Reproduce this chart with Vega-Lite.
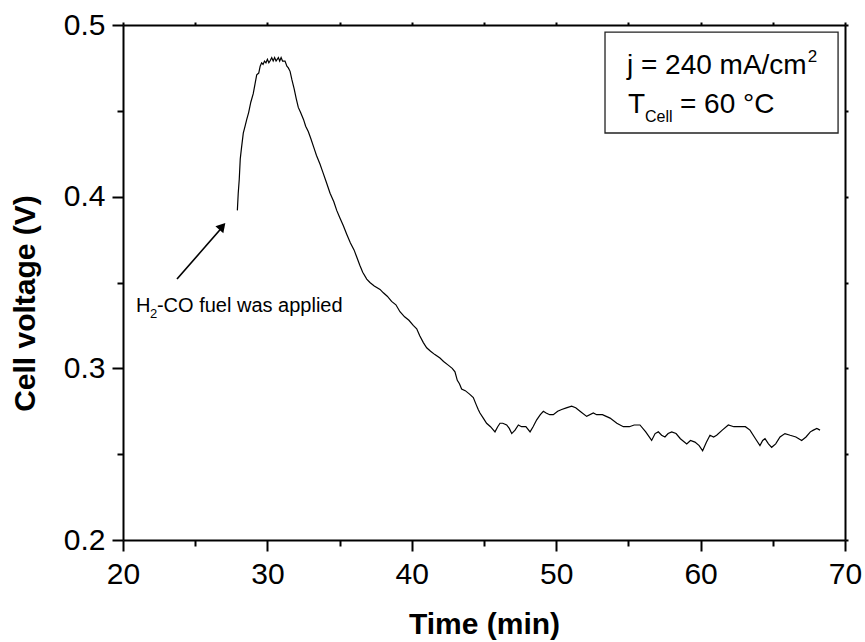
{
  "$schema": "https://vega.github.io/schema/vega-lite/v6.json",
  "width": 722,
  "height": 515,
  "autosize": "none",
  "padding": {"left": 123, "top": 25, "right": 20, "bottom": 102},
  "background": "white",
  "config": {
    "view": {"stroke": null},
    "font": "Liberation Sans",
    "axis": {"domainColor": "black", "domainWidth": 2, "tickColor": "black", "tickWidth": 2, "grid": false, "labelColor": "black", "titleColor": "black", "labelFont": "Liberation Sans", "titleFont": "Liberation Sans"}
  },
  "datasets": {
    "voltage": [
      {"t": 27.92, "v": 0.392}, {"t": 27.98, "v": 0.402}, {"t": 28.05, "v": 0.410}, {"t": 28.12, "v": 0.422},
      {"t": 28.2, "v": 0.428}, {"t": 28.33, "v": 0.437}, {"t": 28.45, "v": 0.441}, {"t": 28.57, "v": 0.445},
      {"t": 28.7, "v": 0.449}, {"t": 28.85, "v": 0.455}, {"t": 29.02, "v": 0.460}, {"t": 29.15, "v": 0.466},
      {"t": 29.26, "v": 0.471}, {"t": 29.4, "v": 0.472}, {"t": 29.5, "v": 0.476}, {"t": 29.6, "v": 0.478},
      {"t": 29.7, "v": 0.477}, {"t": 29.8, "v": 0.479}, {"t": 29.9, "v": 0.478}, {"t": 30.0, "v": 0.480},
      {"t": 30.1, "v": 0.478}, {"t": 30.18, "v": 0.479}, {"t": 30.3, "v": 0.481}, {"t": 30.4, "v": 0.479},
      {"t": 30.5, "v": 0.481}, {"t": 30.6, "v": 0.479}, {"t": 30.76, "v": 0.481}, {"t": 30.85, "v": 0.479},
      {"t": 30.95, "v": 0.481}, {"t": 31.05, "v": 0.479}, {"t": 31.22, "v": 0.479}, {"t": 31.35, "v": 0.476},
      {"t": 31.45, "v": 0.475}, {"t": 31.57, "v": 0.473}, {"t": 31.7, "v": 0.468}, {"t": 31.85, "v": 0.463},
      {"t": 32.0, "v": 0.457}, {"t": 32.14, "v": 0.452}, {"t": 32.3, "v": 0.449}, {"t": 32.5, "v": 0.445},
      {"t": 32.65, "v": 0.441}, {"t": 32.83, "v": 0.438}, {"t": 33.0, "v": 0.434}, {"t": 33.2, "v": 0.429},
      {"t": 33.4, "v": 0.424}, {"t": 33.64, "v": 0.419}, {"t": 33.85, "v": 0.414}, {"t": 34.1, "v": 0.408},
      {"t": 34.34, "v": 0.402}, {"t": 34.6, "v": 0.397}, {"t": 34.8, "v": 0.392}, {"t": 35.0, "v": 0.388},
      {"t": 35.26, "v": 0.383}, {"t": 35.5, "v": 0.378}, {"t": 35.75, "v": 0.373}, {"t": 36.0, "v": 0.369},
      {"t": 36.18, "v": 0.365}, {"t": 36.4, "v": 0.360}, {"t": 36.6, "v": 0.356}, {"t": 36.88, "v": 0.352},
      {"t": 37.1, "v": 0.350}, {"t": 37.4, "v": 0.348}, {"t": 37.8, "v": 0.346}, {"t": 38.03, "v": 0.344},
      {"t": 38.3, "v": 0.342}, {"t": 38.6, "v": 0.339}, {"t": 38.9, "v": 0.337}, {"t": 39.18, "v": 0.333},
      {"t": 39.5, "v": 0.330}, {"t": 39.8, "v": 0.328}, {"t": 40.1, "v": 0.325}, {"t": 40.34, "v": 0.323},
      {"t": 40.55, "v": 0.319}, {"t": 40.8, "v": 0.315}, {"t": 41.03, "v": 0.312}, {"t": 41.3, "v": 0.310},
      {"t": 41.6, "v": 0.308}, {"t": 41.95, "v": 0.306}, {"t": 42.2, "v": 0.304}, {"t": 42.5, "v": 0.302},
      {"t": 42.8, "v": 0.300}, {"t": 42.99, "v": 0.298}, {"t": 43.15, "v": 0.293}, {"t": 43.3, "v": 0.291},
      {"t": 43.45, "v": 0.288}, {"t": 43.7, "v": 0.287}, {"t": 44.0, "v": 0.285}, {"t": 44.26, "v": 0.283},
      {"t": 44.45, "v": 0.279}, {"t": 44.6, "v": 0.276}, {"t": 44.72, "v": 0.274}, {"t": 44.95, "v": 0.271},
      {"t": 45.18, "v": 0.268}, {"t": 45.45, "v": 0.266}, {"t": 45.76, "v": 0.263}, {"t": 45.95, "v": 0.266},
      {"t": 46.11, "v": 0.268}, {"t": 46.3, "v": 0.268}, {"t": 46.57, "v": 0.267}, {"t": 46.75, "v": 0.265},
      {"t": 46.92, "v": 0.262}, {"t": 47.15, "v": 0.264}, {"t": 47.38, "v": 0.267}, {"t": 47.6, "v": 0.266},
      {"t": 47.9, "v": 0.266}, {"t": 48.19, "v": 0.263}, {"t": 48.4, "v": 0.266}, {"t": 48.65, "v": 0.270},
      {"t": 48.9, "v": 0.273}, {"t": 49.11, "v": 0.275}, {"t": 49.3, "v": 0.274}, {"t": 49.55, "v": 0.273},
      {"t": 49.8, "v": 0.273}, {"t": 50.1, "v": 0.275}, {"t": 50.38, "v": 0.276}, {"t": 50.7, "v": 0.277},
      {"t": 51.07, "v": 0.278}, {"t": 51.35, "v": 0.277}, {"t": 51.65, "v": 0.275}, {"t": 52.11, "v": 0.272},
      {"t": 52.57, "v": 0.274}, {"t": 52.8, "v": 0.273}, {"t": 53.2, "v": 0.273}, {"t": 53.73, "v": 0.271},
      {"t": 54.2, "v": 0.268}, {"t": 54.65, "v": 0.266}, {"t": 55.07, "v": 0.266}, {"t": 55.4, "v": 0.267},
      {"t": 55.8, "v": 0.267}, {"t": 56.2, "v": 0.263}, {"t": 56.61, "v": 0.258}, {"t": 56.85, "v": 0.262},
      {"t": 57.07, "v": 0.263}, {"t": 57.3, "v": 0.261}, {"t": 57.53, "v": 0.260}, {"t": 57.75, "v": 0.262},
      {"t": 58.0, "v": 0.263}, {"t": 58.3, "v": 0.262}, {"t": 58.6, "v": 0.259}, {"t": 59.04, "v": 0.256},
      {"t": 59.3, "v": 0.258}, {"t": 59.61, "v": 0.257}, {"t": 59.9, "v": 0.255}, {"t": 60.14, "v": 0.252},
      {"t": 60.4, "v": 0.257}, {"t": 60.65, "v": 0.261}, {"t": 60.9, "v": 0.260}, {"t": 61.11, "v": 0.261},
      {"t": 61.5, "v": 0.264}, {"t": 61.92, "v": 0.267}, {"t": 62.3, "v": 0.266}, {"t": 62.73, "v": 0.266},
      {"t": 63.1, "v": 0.266}, {"t": 63.42, "v": 0.264}, {"t": 63.8, "v": 0.259}, {"t": 64.11, "v": 0.255},
      {"t": 64.3, "v": 0.258}, {"t": 64.46, "v": 0.259}, {"t": 64.7, "v": 0.256}, {"t": 64.92, "v": 0.254},
      {"t": 65.2, "v": 0.256}, {"t": 65.5, "v": 0.260}, {"t": 65.84, "v": 0.262}, {"t": 66.2, "v": 0.261},
      {"t": 66.6, "v": 0.260}, {"t": 67.0, "v": 0.258}, {"t": 67.3, "v": 0.260}, {"t": 67.6, "v": 0.263},
      {"t": 67.81, "v": 0.264}, {"t": 68.05, "v": 0.265}, {"t": 68.27, "v": 0.264}
    ]
  },
  "layer": [
    {
      "data": {"name": "voltage"},
      "mark": {"type": "line", "color": "black", "strokeWidth": 1.2, "clip": true},
      "encoding": {
        "x": {"field": "t", "type": "quantitative",
          "scale": {"domain": [20, 70], "nice": false, "zero": false},
          "axis": {"orient": "bottom", "title": "Time (min)", "values": [20, 25, 30, 35, 40, 45, 50, 55, 60, 65, 70],
            "labelExpr": "datum.value % 10 === 0 ? datum.label : ''",
            "tickSize": {"condition": {"test": "datum.value % 10 === 0", "value": 11}, "value": 6},
            "labelFontSize": 30, "labelPadding": 8, "labelFlush": false, "labelOverlap": false,
            "titleFontSize": 30, "titleFontWeight": "bold", "titleX": 361, "titleY": 93, "titleBaseline": "alphabetic", "titleAlign": "center"}},
        "y": {"field": "v", "type": "quantitative",
          "scale": {"domain": [0.2, 0.5], "nice": false, "zero": false},
          "axis": {"orient": "left", "title": "Cell voltage (V)", "values": [0.2, 0.25, 0.3, 0.35, 0.4, 0.45, 0.5],
            "format": ".1f",
            "labelExpr": "round(datum.value * 100) % 10 === 0 ? datum.label : ''",
            "tickSize": {"condition": {"test": "round(datum.value * 100) % 10 === 0", "value": 11}, "value": 6},
            "labelFontSize": 30, "labelPadding": 7, "labelFlush": false, "labelOverlap": false,
            "titleFontSize": 30, "titleFontWeight": "bold", "titleX": -98, "titleY": 278, "titleAngle": -90, "titleBaseline": "middle", "titleAlign": "center"}}
      }
    },
    {
      "data": {"values": [{"x1": 53.38, "x2": 69.52, "y1": 0.4959, "y2": 0.4371}]},
      "mark": {"type": "rect", "fill": "white", "stroke": "#222222", "strokeWidth": 1.3},
      "encoding": {
        "x": {"field": "x1", "type": "quantitative", "axis": {"orient": "top", "title": null, "values": [20, 25, 30, 35, 40, 45, 50, 55, 60, 65, 70], "labels": false, "tickSize": 3, "domainWidth": 2}},
        "x2": {"field": "x2"},
        "y": {"field": "y1", "type": "quantitative", "axis": {"orient": "right", "title": null, "values": [0.2, 0.25, 0.3, 0.35, 0.4, 0.45, 0.5], "labels": false, "tickSize": 3, "domainWidth": 2}},
        "y2": {"field": "y2"}
      }
    },
    {
      "data": {"values": [
        {"x": 54.9, "y": 0.4715, "label": "j = 240 mA/cm", "size": 28},
        {"x": 67.42, "y": 0.4785, "label": "2", "size": 17},
        {"x": 54.97, "y": 0.4487, "label": "T", "size": 28},
        {"x": 56.15, "y": 0.4435, "label": "Cell", "size": 16},
        {"x": 58.57, "y": 0.4487, "label": "= 60 °C", "size": 28},
        {"x": 20.9, "y": 0.3328, "label": "H", "size": 20},
        {"x": 21.87, "y": 0.3293, "label": "2", "size": 13},
        {"x": 22.35, "y": 0.3328, "label": "-CO fuel was applied", "size": 20}
      ]},
      "mark": {"type": "text", "align": "left", "baseline": "alphabetic", "color": "black", "font": "Liberation Sans"},
      "encoding": {
        "x": {"field": "x", "type": "quantitative", "axis": null},
        "y": {"field": "y", "type": "quantitative", "axis": null},
        "text": {"field": "label"},
        "size": {"field": "size", "type": "quantitative", "scale": null, "legend": null}
      }
    },
    {
      "data": {"values": [{"x": 23.74, "y": 0.352, "x2": 26.9, "y2": 0.3825}]},
      "mark": {"type": "rule", "color": "black", "strokeWidth": 1.6},
      "encoding": {
        "x": {"field": "x", "type": "quantitative", "axis": null},
        "y": {"field": "y", "type": "quantitative", "axis": null},
        "x2": {"field": "x2"},
        "y2": {"field": "y2"}
      }
    },
    {
      "data": {"values": [{"x": 26.88, "y": 0.3827, "angle": 41}]},
      "mark": {"type": "point", "shape": "triangle-up", "filled": true, "color": "black", "size": 110, "opacity": 1},
      "encoding": {
        "x": {"field": "x", "type": "quantitative", "axis": null},
        "y": {"field": "y", "type": "quantitative", "axis": null},
        "angle": {"field": "angle", "type": "quantitative", "scale": null}
      }
    }
  ],
  "resolve": {"axis": {"x": "independent", "y": "independent"}}
}
